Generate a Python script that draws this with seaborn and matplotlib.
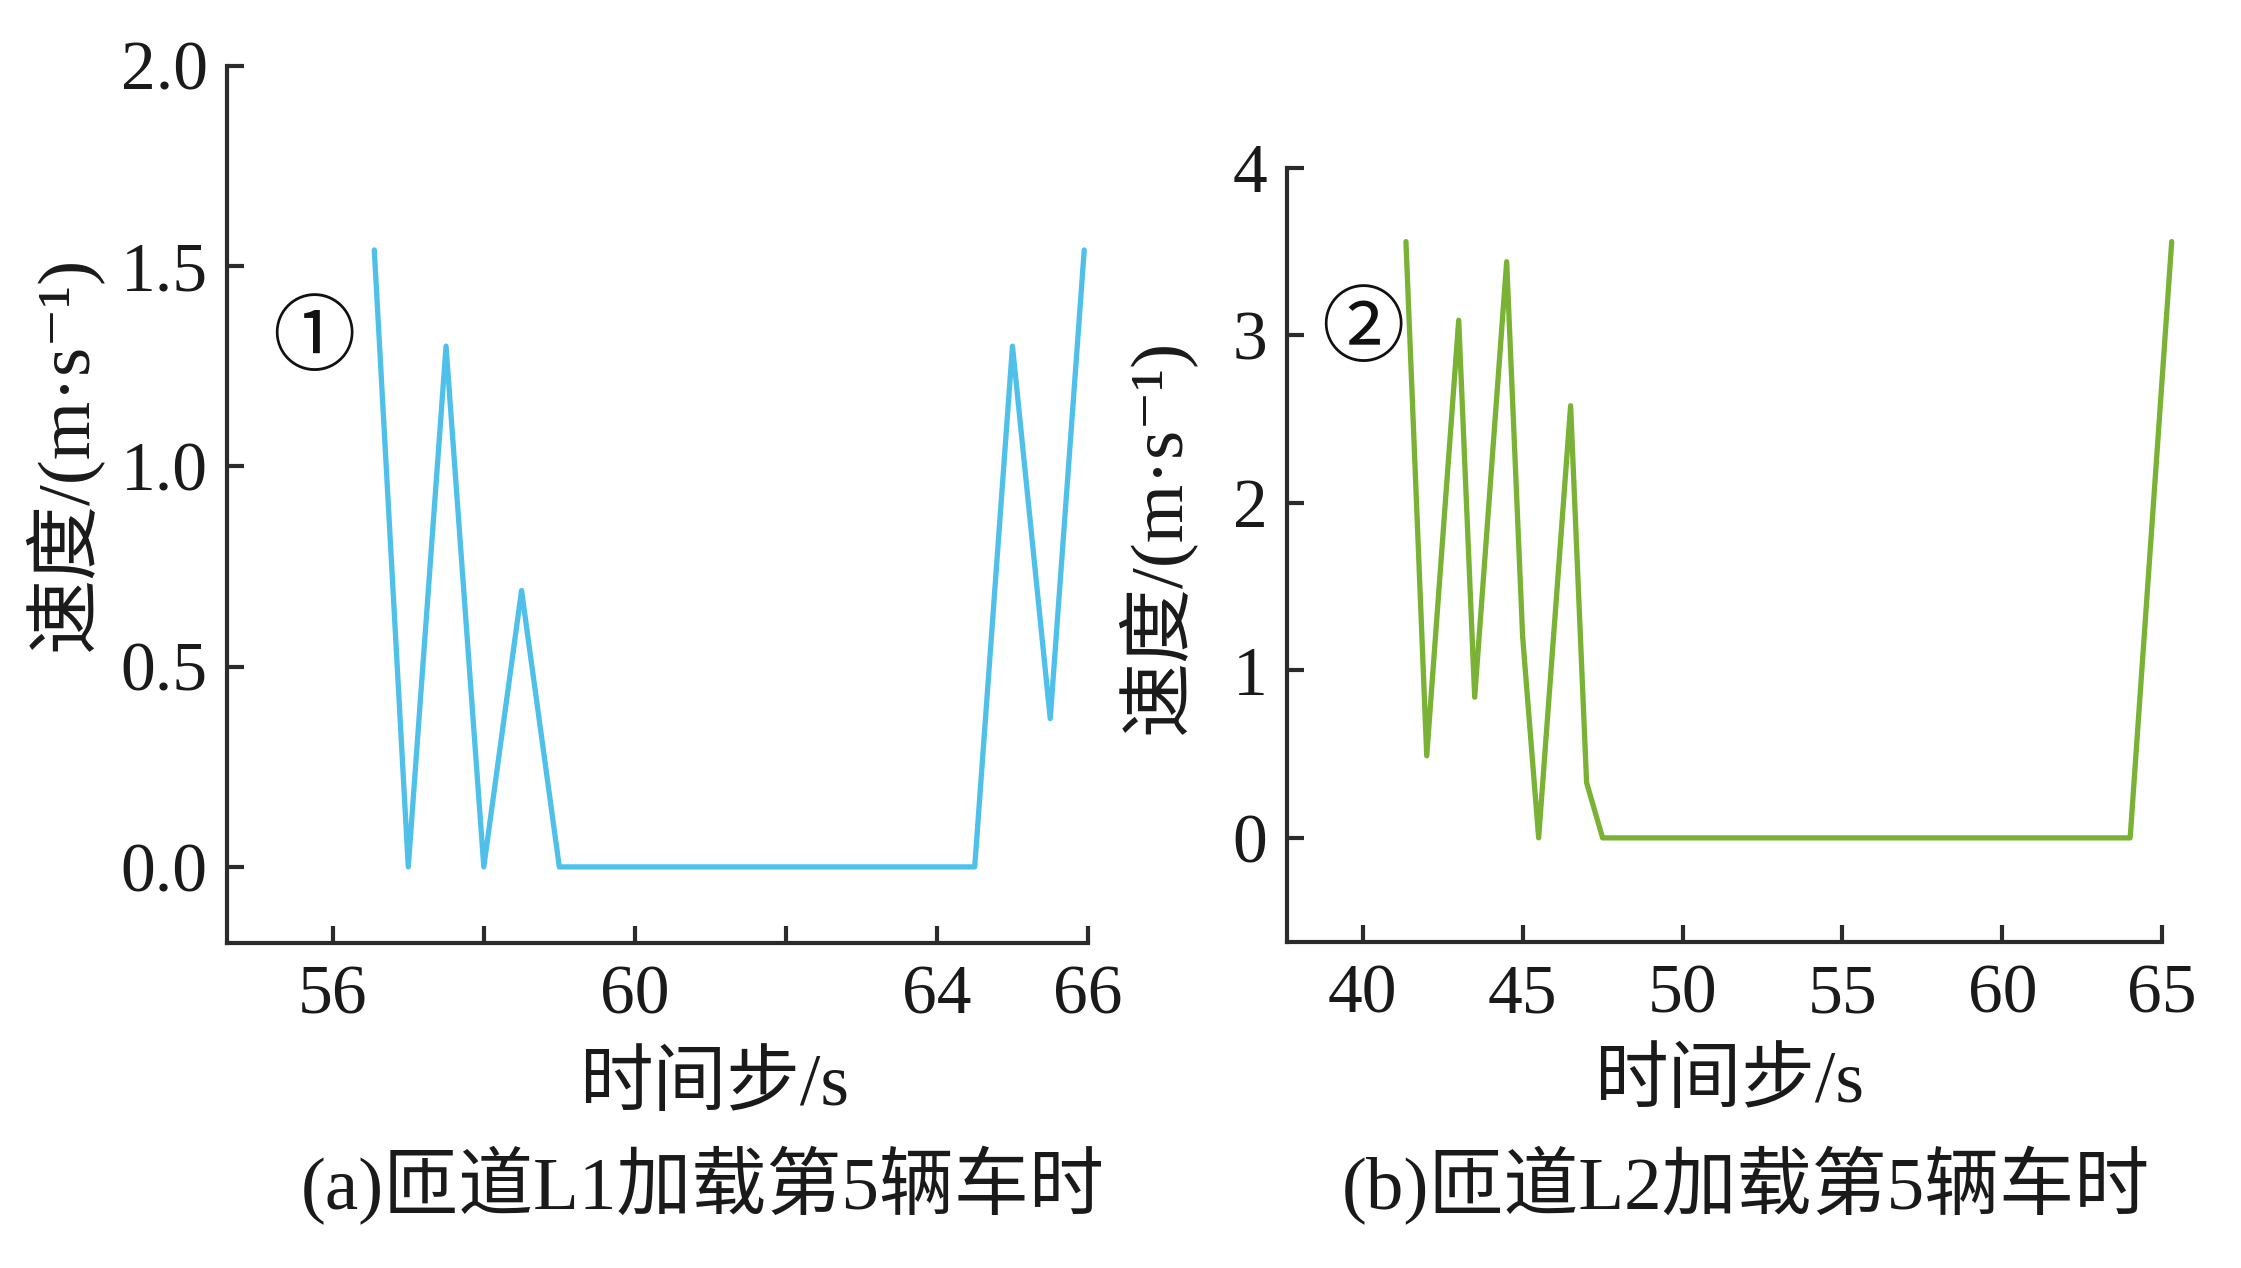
import numpy as np
import pandas as pd
import seaborn as sns
import matplotlib
matplotlib.use("Agg")
import matplotlib.pyplot as plt

# values
# (a) ramp L1, 5th vehicle loaded
time_a = [56.55, 57.0, 57.5, 58.0, 58.5, 59.0, 64.5, 65.0, 65.5, 65.95]
speed_a = [1.54, 0.0, 1.30, 0.0, 0.69, 0.0, 0.0, 1.30, 0.37, 1.54]

# (b) ramp L2, 5th vehicle loaded
time_b = [41.35, 42.0, 43.0, 43.5, 44.5, 45.0, 45.5, 46.5, 47.0, 47.5, 64.0, 65.3]
speed_b = [3.56, 0.49, 3.09, 0.84, 3.44, 1.20, 0.0, 2.58, 0.33, 0.0, 0.0, 3.56]

xticks_a = [56, 58, 60, 62, 64, 66]
xticklabels_a = ["56", "", "60", "", "64", "66"]
yticks_a = [0.0, 0.5, 1.0, 1.5, 2.0]
xticks_b = [40, 45, 50, 55, 60, 65]
yticks_b = [0, 1, 2, 3, 4]

ylabel = "速度/(m·s⁻¹)"
xlabel = "时间步/s"
caption_a = "(a)匝道L1加载第5辆车时"
caption_b = "(b)匝道L2加载第5辆车时"

sns.set_theme(style="ticks")
plt.rcParams["font.family"] = ["Liberation Serif", "DejaVu Serif", "Noto Sans CJK SC"]
plt.rcParams["axes.unicode_minus"] = False

fig = plt.figure(figsize=(22.41, 12.68), dpi=100)
ax_a = fig.add_axes([0.1013, 0.2563, 0.3842, 0.6919])
ax_b = fig.add_axes([0.5743, 0.2573, 0.3905, 0.6103])

df_a = pd.DataFrame({"t": time_a, "v": speed_a})
df_b = pd.DataFrame({"t": time_b, "v": speed_b})

sns.lineplot(data=df_a, x="t", y="v", ax=ax_a, color="#4FC0EA", lw=3.8,
             sort=False, estimator=None, clip_on=False)
sns.lineplot(data=df_b, x="t", y="v", ax=ax_b, color="#79B234", lw=3.8,
             sort=False, estimator=None, clip_on=False)

spine_col = "#2b2b2b"
for ax in (ax_a, ax_b):
    sns.despine(ax=ax)
    for s in ("left", "bottom"):
        ax.spines[s].set_linewidth(3.0)
        ax.spines[s].set_color(spine_col)
    ax.tick_params(direction="in", length=12, width=3.0, color=spine_col,
                   labelsize=50, labelcolor="#1a1a1a")
    ax.tick_params(axis="y", pad=14)
    ax.tick_params(axis="x", pad=16)

circ_font = ["Noto Sans CJK SC", "DejaVu Sans"]

# panel (a)
ax_a.set_xlim(54.6, 66)
ax_a.set_ylim(-0.19, 2.0)
ax_a.set_xticks(xticks_a)
ax_a.set_xticklabels(xticklabels_a)
ax_a.set_yticks(yticks_a)
ax_a.set_yticklabels([f"{v:.1f}" for v in yticks_a])
ax_a.set_xlabel(xlabel, fontsize=53, color="#1a1a1a")
ax_a.xaxis.set_label_coords(0.566, -0.125)
ax_a.set_ylabel(ylabel, fontsize=54, color="#1a1a1a")
ax_a.yaxis.set_label_coords(-0.145, 0.558)
ax_a.text(55.75, 1.315, "①", fontsize=60, ha="center", va="center",
          family=circ_font, color="#111111")

# panel (b)
ax_b.set_xlim(37.63, 65)
ax_b.set_ylim(-0.62, 4.0)
ax_b.set_xticks(xticks_b)
ax_b.set_yticks(yticks_b)
ax_b.set_xlabel(xlabel, fontsize=53, color="#1a1a1a")
ax_b.xaxis.set_label_coords(0.505, -0.14)
ax_b.set_ylabel(ylabel, fontsize=54, color="#1a1a1a")
ax_b.yaxis.set_label_coords(-0.105, 0.524)
ax_b.text(40.0, 3.03, "②", fontsize=60, ha="center", va="center",
          family=circ_font, color="#111111")

fig.text(703 / 2241, 1 - 1186 / 1268, caption_a, fontsize=54, ha="center",
         va="center", color="#1a1a1a")
fig.text(1746 / 2241, 1 - 1186 / 1268, caption_b, fontsize=54, ha="center",
         va="center", color="#1a1a1a")

fig.savefig("out.png", dpi=100, facecolor="white")
